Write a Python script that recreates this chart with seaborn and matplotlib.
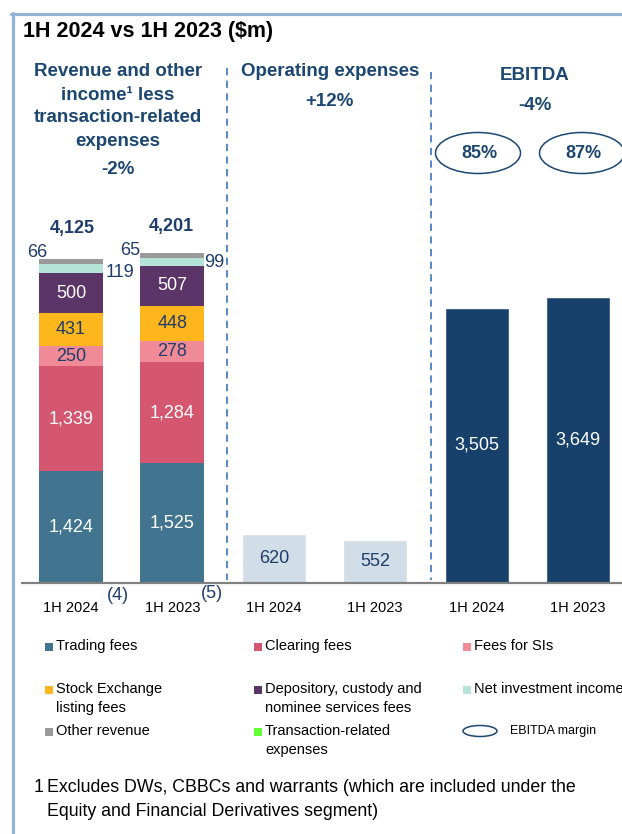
import pandas as pd
import matplotlib.pyplot as plt
import seaborn as sns
from matplotlib.patches import Rectangle, Ellipse
from matplotlib.lines import Line2D

# Data ($m)
periods = ["1H 2024", "1H 2023"]
trading_fees = [1424, 1525]
clearing_fees = [1339, 1284]
fees_for_sis = [250, 278]
listing_fees = [431, 448]
depository_fees = [500, 507]
net_investment_income = [119, 99]
other_revenue = [66, 65]
transaction_expenses = [-4, -5]
revenue_totals = [4125, 4201]
operating_expenses = [620, 552]
ebitda = [3505, 3649]
ebitda_margin = ["85%", "87%"]

# Colours
C_TRADING = "#41758f"
C_CLEARING = "#d4566f"
C_SIS = "#f08a96"
C_LISTING = "#fdb71c"
C_DEPOSITORY = "#5b3468"
C_NII = "#b4e3d7"
C_OTHER = "#9a9a9a"
C_TRANS = "#66ff33"
C_OPEX = "#d1dde7"
C_EBITDA = "#17416b"
NAVY = "#1c4770"
LABEL_DARK = "#1f3d6b"

W, H = 622, 834


def fx(px):
    return px / W


def fy(py):
    return 1 - py / H


sns.set_theme(style="white")
plt.rcParams["font.family"] = ["Liberation Sans", "DejaVu Sans"]

fig = plt.figure(figsize=(W / 100, H / 100), dpi=100)

# axes geometry: baseline at pixel y=583, 0.0785 px per $m
scale = 0.0785
ax_top, ax_bot = 150, 590
ax = fig.add_axes([fx(21), fy(ax_bot), 1 - fx(21), (ax_bot - ax_top) / H])

# single-series bars (operating expenses, EBITDA)
single = pd.DataFrame({
    "pos": [2, 3, 4, 5],
    "value": operating_expenses + ebitda,
    "group": ["Opex", "Opex", "EBITDA", "EBITDA"],
})
sns.barplot(data=single, x="pos", y="value", hue="group",
            palette={"Opex": C_OPEX, "EBITDA": C_EBITDA},
            native_scale=True, width=0.63, dodge=False, saturation=1,
            legend=False, ax=ax)

# stacked revenue bars
layers = [
    (trading_fees, C_TRADING),
    (clearing_fees, C_CLEARING),
    (fees_for_sis, C_SIS),
    (listing_fees, C_LISTING),
    (depository_fees, C_DEPOSITORY),
    (net_investment_income, C_NII),
    (other_revenue, C_OTHER),
]
rev_pos = [0, 1]
bottoms = [0, 0]
for vals, col in layers:
    ax.bar(rev_pos, vals, bottom=bottoms, width=0.63, color=col, linewidth=0)
    bottoms = [b + v for b, v in zip(bottoms, vals)]
ax.bar(rev_pos, transaction_expenses, width=0.63, color=C_TRANS, linewidth=0)
gross = bottoms

# in-bar labels
inner = [
    (trading_fees, "white"),
    (clearing_fees, "white"),
    (fees_for_sis, LABEL_DARK),
    (listing_fees, LABEL_DARK),
    (depository_fees, "white"),
]
bottoms = [0, 0]
for vals, col in inner:
    for i, v in enumerate(vals):
        ax.text(rev_pos[i], bottoms[i] + v / 2, f"{v:,}", ha="center", va="center",
                color=col, fontsize=13)
    bottoms = [b + v for b, v in zip(bottoms, vals)]

for i, v in enumerate(operating_expenses):
    ax.text(2 + i, v / 2, f"{v:,}", ha="center", va="center", color=LABEL_DARK, fontsize=13)
for i, v in enumerate(ebitda):
    ax.text(4 + i, v / 2, f"{v:,}", ha="center", va="center", color="white", fontsize=13)


def ann(txt, x, y, dx, dy, **kw):
    ax.annotate(txt, (x, y), xytext=(dx, dy), textcoords="offset pixels",
                ha="center", va="center", color=LABEL_DARK, fontsize=13, **kw)


# totals and small outside labels
ann(f"{revenue_totals[0]:,}", 0, gross[0], 1, 30, fontweight="bold")
ann(f"{revenue_totals[1]:,}", 1, gross[1], -1, 26, fontweight="bold")
ann(str(other_revenue[0]), 0, gross[0], -34, 6)
ann(str(net_investment_income[0]), 0, gross[0], 49, -14)
ann(str(other_revenue[1]), 1, gross[1], -42, 2)
ann(str(net_investment_income[1]), 1, gross[1], 42, -10)
ann(f"({-transaction_expenses[0]})", 0, 0, 47, -13)
ann(f"({-transaction_expenses[1]})", 1, 0, 40, -11)

ax.axhline(0, color="#808080", lw=1.6, zorder=5)
ax.set_xlim((21 - 71) / 101.4, (622 - 71) / 101.4)
ax.set_ylim(-(ax_bot - 583) / scale, (583 - ax_top) / scale)
ax.set_xticks(range(6))
ax.set_xticklabels(periods * 3, fontsize=10.5, color="black")
ax.tick_params(axis="x", length=0, pad=8)
ax.set_yticks([])
ax.set_xlabel("")
ax.set_ylabel("")
for s in ax.spines.values():
    s.set_visible(False)
ax.patch.set_alpha(0)

# frame lines
fig.add_artist(Line2D([fx(11), 1], [fy(14), fy(14)], color="#95b3d7", lw=2.3))
fig.add_artist(Line2D([fx(13), fx(13)], [fy(13), 0], color="#95b3d7", lw=2.3))

# dashed separators
for xpx, ytop in [(227, 68), (431, 72)]:
    fig.add_artist(Line2D([fx(xpx), fx(xpx)], [fy(ytop), fy(580)], color="#4a7fc1",
                          lw=1.3, linestyle=(0, (4, 3))))

# title and section headings
fig.text(fx(23), fy(32), "1H 2024 vs 1H 2023 ($m)", fontsize=15.5, fontweight="bold",
         color="black", ha="left", va="center")
head = dict(fontsize=13.5, fontweight="bold", color=NAVY, ha="center", va="center")
for txt, ypx in [("Revenue and other", 72), ("income\u00b9 less", 95),
                 ("transaction-related", 118), ("expenses", 142), ("-2%", 170)]:
    fig.text(fx(118), fy(ypx), txt, **head)
fig.text(fx(330), fy(72), "Operating expenses", **head)
fig.text(fx(329), fy(102), "+12%", **head)
fig.text(fx(535), fy(75), "EBITDA", **head)
fig.text(fx(535), fy(105), "-4%", **head)

# EBITDA margin ellipses
for xc, m in zip([478, 582], ebitda_margin):
    fig.add_artist(Ellipse((fx(xc), fy(153)), 85 / W, 41 / H, transform=fig.transFigure,
                           facecolor="none", edgecolor=NAVY, lw=1.1))
    fig.text(fx(xc + 1), fy(154), m, fontsize=13, fontweight="bold", color=NAVY,
             ha="center", va="center")

# legend
legend_items = [
    (45, 647, C_TRADING, "Trading fees"),
    (254, 647, C_CLEARING, "Clearing fees"),
    (463, 647, C_SIS, "Fees for SIs"),
    (45, 690, C_LISTING, "Stock Exchange\nlisting fees"),
    (254, 690, C_DEPOSITORY, "Depository, custody and\nnominee services fees"),
    (463, 690, C_NII, "Net investment income"),
    (45, 732, C_OTHER, "Other revenue"),
    (254, 732, C_TRANS, "Transaction-related\nexpenses"),
]
for xpx, ypx, col, label in legend_items:
    fig.add_artist(Rectangle((fx(xpx), fy(ypx + 4)), 8 / W, 8 / H,
                             transform=fig.transFigure, color=col, lw=0))
    fig.text(fx(xpx + 11), fy(ypx - 8), label, fontsize=10.5, color="black",
             ha="left", va="top", linespacing=1.45)
fig.add_artist(Ellipse((fx(480), fy(731)), 34 / W, 11 / H, transform=fig.transFigure,
                       facecolor="none", edgecolor=NAVY, lw=1.1))
fig.text(fx(510), fy(731), "EBITDA margin", fontsize=9, color="black",
         ha="left", va="center")

# footnote
fig.text(fx(34), fy(788), "1", fontsize=12.75, color="black", ha="left", va="center")
fig.text(fx(47), fy(788), "Excludes DWs, CBBCs and warrants (which are included under the",
         fontsize=12.75, color="black", ha="left", va="center")
fig.text(fx(47), fy(812), "Equity and Financial Derivatives segment)",
         fontsize=12.75, color="black", ha="left", va="center")

fig.savefig("out.png", dpi=100)
